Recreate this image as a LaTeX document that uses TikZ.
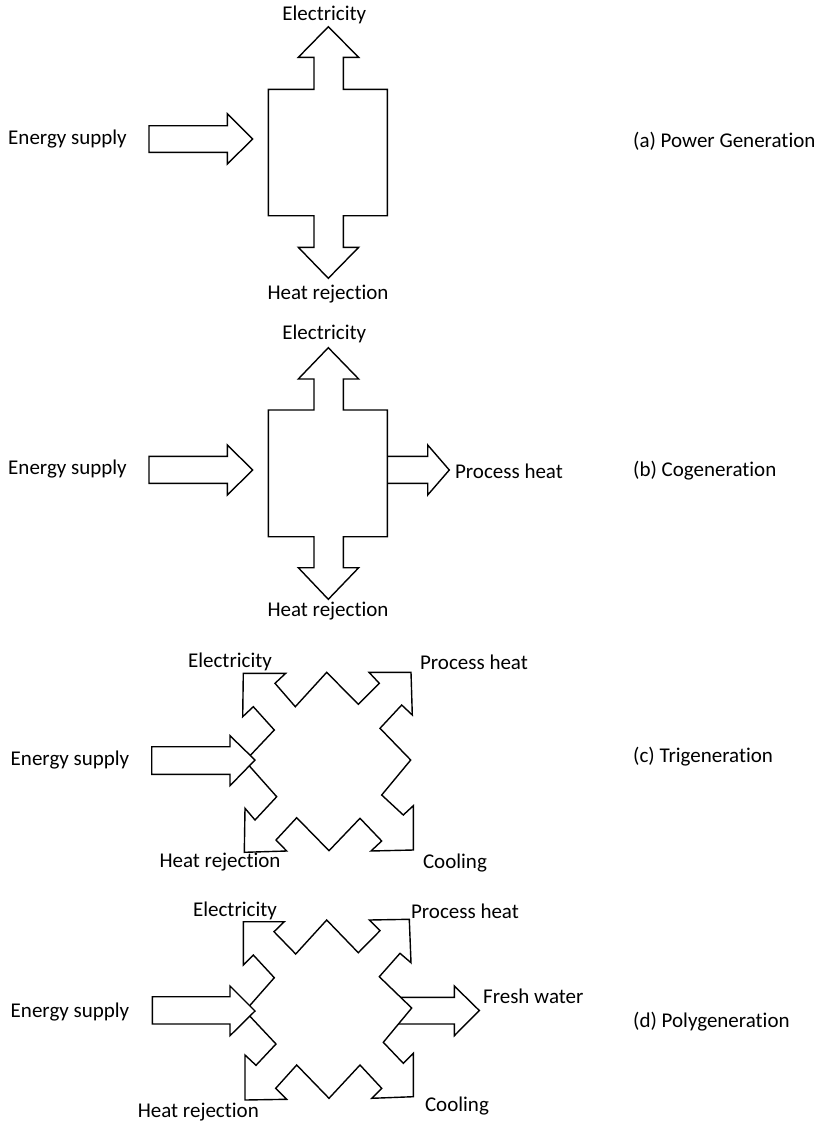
\documentclass[tikz,border=0pt]{standalone}
\usepackage{fontspec}
\setmainfont{Carlito}[Ligatures=NoCommon]
\begin{document}
\begin{tikzpicture}[x=1pt,y=-1pt,
  blk/.style={draw=black, fill=white, line width=1.4pt, line join=miter},
  lbl/.style={font=\fontsize{21}{25}\selectfont, inner sep=0pt}]
\useasboundingbox[fill=white] (0,0) rectangle (822,1127);

% ---------- (a) Power generation ----------
\draw[blk] (268.3,89.3) -- (314,89.3) -- (314,57.3) -- (298.3,57.3) -- (328.3,26.7)
  -- (358.7,57.3) -- (343.3,57.3) -- (343.3,89.3) -- (387.3,89.3) -- (387.3,215.7)
  -- (343.3,215.7) -- (343.3,247.3) -- (358.7,247.3) -- (328.3,278.3) -- (298.3,247.3)
  -- (314,247.3) -- (314,215.7) -- (268.3,215.7) -- cycle;
\draw[blk] (149,125.7) -- (227.3,125.7) -- (227.3,113.7) -- (252.7,139) -- (227.3,164)
  -- (227.3,152.3) -- (149,152.3) -- cycle;
\node[lbl] (aEl) at (324.3,14.5) {Electricity};
\node[lbl] (aHr) at (328,294.5) {Heat rejection};
\node[lbl] (aEs) at (67.5,139.5) {Energy supply};
\node[lbl,anchor=west] (aT) at (633,141) {(a) Power Generation};

% ---------- (b) Cogeneration ----------
\draw[blk] (380,456.3) -- (427.7,456.3) -- (427.7,445) -- (449.3,470) -- (427.7,495)
  -- (427.7,483.3) -- (380,483.3) -- cycle;
\draw[blk] (268.3,410) -- (314,410) -- (314,379) -- (298.3,379) -- (328.3,347.7)
  -- (358.7,379) -- (343.3,379) -- (343.3,410) -- (387.3,410) -- (387.3,536.7)
  -- (343.3,536.7) -- (343.3,567.7) -- (358.7,567.7) -- (328.3,599.3) -- (298.3,567.7)
  -- (314,567.7) -- (314,536.7) -- (268.3,536.7) -- cycle;
\draw[blk] (149,456.3) -- (227.3,456.3) -- (227.3,445) -- (252.7,470) -- (227.3,495)
  -- (227.3,483.3) -- (149,483.3) -- cycle;
\node[lbl] (bEl) at (324.3,334) {Electricity};
\node[lbl] (bHr) at (328,611) {Heat rejection};
\node[lbl] (bPh) at (509,471) {Process heat};
\node[lbl] (bEs) at (67.5,469.5) {Energy supply};
\node[lbl,anchor=west] (bT) at (633,471) {(b) Cogeneration};

% ---------- (c) Trigeneration ----------
\draw[blk] (243.3,673.3) -- (285.7,673.3) -- (275,683.3) -- (295.3,706.7) -- (326.7,672.3)
  -- (358.3,704.3) -- (379.3,683.3) -- (369,672.3) -- (411,672.3) -- (412.3,715)
  -- (401.7,705) -- (380,728.3) -- (410.7,760) -- (381.7,795) -- (403.3,815)
  -- (413.3,805.7) -- (413.3,850) -- (371,851) -- (381.7,841) -- (360,818.3)
  -- (329,850.7) -- (296.7,817.7) -- (276,840) -- (286.7,851) -- (244.3,852.3)
  -- (245,808.3) -- (255,820) -- (276.7,796.7) -- (245,761) -- (274.3,730)
  -- (253.3,706.7) -- (242.7,716.7) -- cycle;
\draw[blk] (151.7,746.7) -- (230,746.7) -- (230,735.7) -- (255,760) -- (230,785.7)
  -- (230,774.3) -- (151.7,774.3) -- cycle;
\node[lbl] (cEl) at (230,661.7) {Electricity};
\node[lbl] (cPh) at (474,662) {Process heat};
\node[lbl] (cEs) at (70,760) {Energy supply};
\node[lbl] (cHr) at (220,862.5) {Heat rejection};
\node[lbl] (cCo) at (455,863) {Cooling};
\node[lbl,anchor=west] (cT) at (633,757) {(c) Trigeneration};

% ---------- (d) Polygeneration ----------
\draw[blk] (390,997.3) -- (454.3,997.3) -- (454.3,986) -- (479.3,1010.5) -- (454.3,1035.7)
  -- (454.3,1024) -- (390,1024) -- cycle;
\draw[blk] (243.3,921.7) -- (284.3,921.7) -- (274,931.7) -- (295.7,954) -- (326.7,920)
  -- (358.3,952.7) -- (380,930.7) -- (369.3,920) -- (409.3,919.3) -- (411,962.7)
  -- (400,953.3) -- (379.3,976.7) -- (411.7,1008) -- (383.3,1042.3) -- (403.3,1063.3)
  -- (413.3,1053.3) -- (413.3,1096.7) -- (371.7,1098.3) -- (381.7,1088.3) -- (360,1065)
  -- (329,1098.3) -- (296.7,1065) -- (275.7,1088.3) -- (286.7,1099.3) -- (245,1100)
  -- (245,1055) -- (256,1065.3) -- (276,1044) -- (245,1011) -- (274.3,977.7)
  -- (253.3,955) -- (243.3,965) -- cycle;
\draw[blk] (152.3,996.7) -- (230,996.7) -- (230,986) -- (255,1011) -- (230,1035.7)
  -- (230,1024) -- (152.3,1024) -- cycle;
\node[lbl] (dEl) at (235,911) {Electricity};
\node[lbl] (dPh) at (465,911.7) {Process heat};
\node[lbl] (dFw) at (533.3,996.7) {Fresh water};
\node[lbl] (dEs) at (70,1012) {Energy supply};
\node[lbl] (dHr) at (198.3,1112.5) {Heat rejection};
\node[lbl] (dCo) at (457,1106.5) {Cooling};
\node[lbl,anchor=west] (dT) at (633,1022) {(d) Polygeneration};
\end{tikzpicture}
\end{document}
